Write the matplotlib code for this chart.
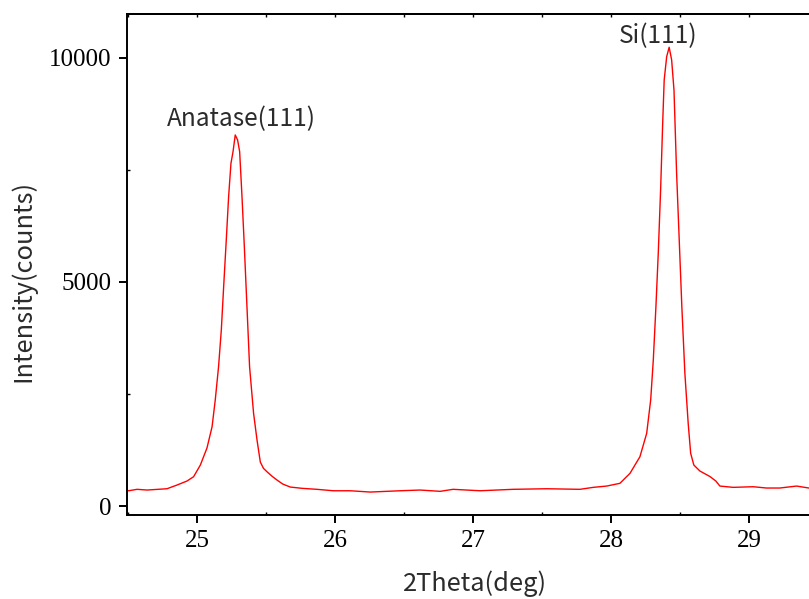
import matplotlib
matplotlib.use("Agg")
import matplotlib.pyplot as plt
import numpy as np

# Data (2theta in degrees, intensity in counts)
two_theta = [24.490, 24.502, 24.563, 24.636, 24.700, 24.780, 24.853, 24.925, 24.973, 25.022, 25.070,
             25.107, 25.130, 25.154, 25.174, 25.191, 25.210, 25.227, 25.244, 25.259, 25.275,
             25.292, 25.307, 25.324, 25.341, 25.360, 25.379, 25.408, 25.433, 25.457, 25.480, 25.505,
             25.540, 25.578, 25.620, 25.674, 25.760, 25.867, 25.986, 26.109, 26.254, 26.471, 26.616, 26.761, 26.855,
             27.051, 27.290, 27.534, 27.775, 27.872, 27.969, 28.065, 28.138, 28.210, 28.259,
             28.288, 28.307, 28.326, 28.343, 28.360, 28.375, 28.386, 28.404, 28.422, 28.440,
             28.457, 28.476, 28.495, 28.514, 28.536, 28.560, 28.578, 28.601, 28.645, 28.717,
             28.760, 28.790, 28.886, 29.031, 29.128, 29.225, 29.346, 29.435, 29.545]
intensity = [345, 341, 373, 357, 370, 386, 469, 558, 654, 915, 1295,
             1770, 2366, 3109, 3928, 4895, 5937, 6904, 7649, 7908, 8281,
             8170, 7908, 6904, 5788, 4448, 3109, 2069, 1473, 980, 840, 766,
             670, 580, 490, 424, 395, 373, 341, 341, 312, 341, 357, 328, 373,
             341, 373, 386, 373, 417, 446, 507, 730, 1100, 1623,
             2366, 3259, 4448, 5640, 7053, 8542, 9508, 10028, 10238, 9955,
             9285, 7426, 5937, 4448, 2962, 1846, 1176, 915, 781, 660,
             560, 446, 417, 431, 402, 402, 446, 402, 420]

peak_labels = ["Anatase(111)", "Si(111)"]
peak_label_x = [25.32, 28.34]
peak_label_y = [8480, 10330]

x_ticks = [25, 26, 27, 28, 29]
y_ticks = [0, 5000, 10000]
x_label = "2Theta(deg)"
y_label = "Intensity(counts)"

sans = ["Noto Sans CJK SC", "DejaVu Sans"]
serif = ["Liberation Serif", "DejaVu Serif"]
text_color = "#2b2b2b"

fig = plt.figure(figsize=(8.09, 5.99), dpi=100)
ax = fig.add_axes([127 / 809, 84 / 599, (824 - 127) / 809, (515 - 14) / 599])

ax.plot(two_theta, intensity, color="#ff0000", linewidth=1.0)

ax.set_xlim(24.49, 29.545)
ax.set_ylim(-200, 10980)

ax.set_xticks(x_ticks)
ax.set_xticks(np.arange(24.5, 29.6, 0.5), minor=True)
ax.set_yticks(y_ticks)
ax.set_yticks([2500, 7500], minor=True)

for s in ["left", "bottom", "top"]:
    ax.spines[s].set_linewidth(1.4)
    ax.spines[s].set_color("black")
ax.spines["right"].set_visible(False)

ax.tick_params(which="major", direction="out", length=6, width=1.4, pad=5, colors="black")
ax.tick_params(which="minor", direction="in", length=2.5, width=1.0)
ax.tick_params(axis="both", which="major", labelsize=18)

for lab in ax.get_xticklabels() + ax.get_yticklabels():
    lab.set_fontfamily(serif)
    lab.set_color("black")

sec = ax.secondary_xaxis("top")
sec.set_xticks(np.arange(24.5, 29.6, 0.5))
sec.tick_params(direction="in", length=2.5, width=1.0, labeltop=False)
sec.spines["top"].set_linewidth(1.4)

ax.set_xlabel(x_label, fontsize=18.3, family=sans, color=text_color, va="center")
ax.xaxis.set_label_coords(475.5 / 809, 1 - 584 / 599, transform=fig.transFigure)
ax.set_ylabel(y_label, fontsize=18.3, family=sans, color=text_color, va="center")
ax.yaxis.set_label_coords(23 / 809, 1 - 281 / 599, transform=fig.transFigure)

for t, x, y in zip(peak_labels, peak_label_x, peak_label_y):
    ax.text(x, y, t, ha="center", va="baseline", fontsize=17.6, family=sans, color=text_color)

fig.savefig("out.png", dpi=100)
